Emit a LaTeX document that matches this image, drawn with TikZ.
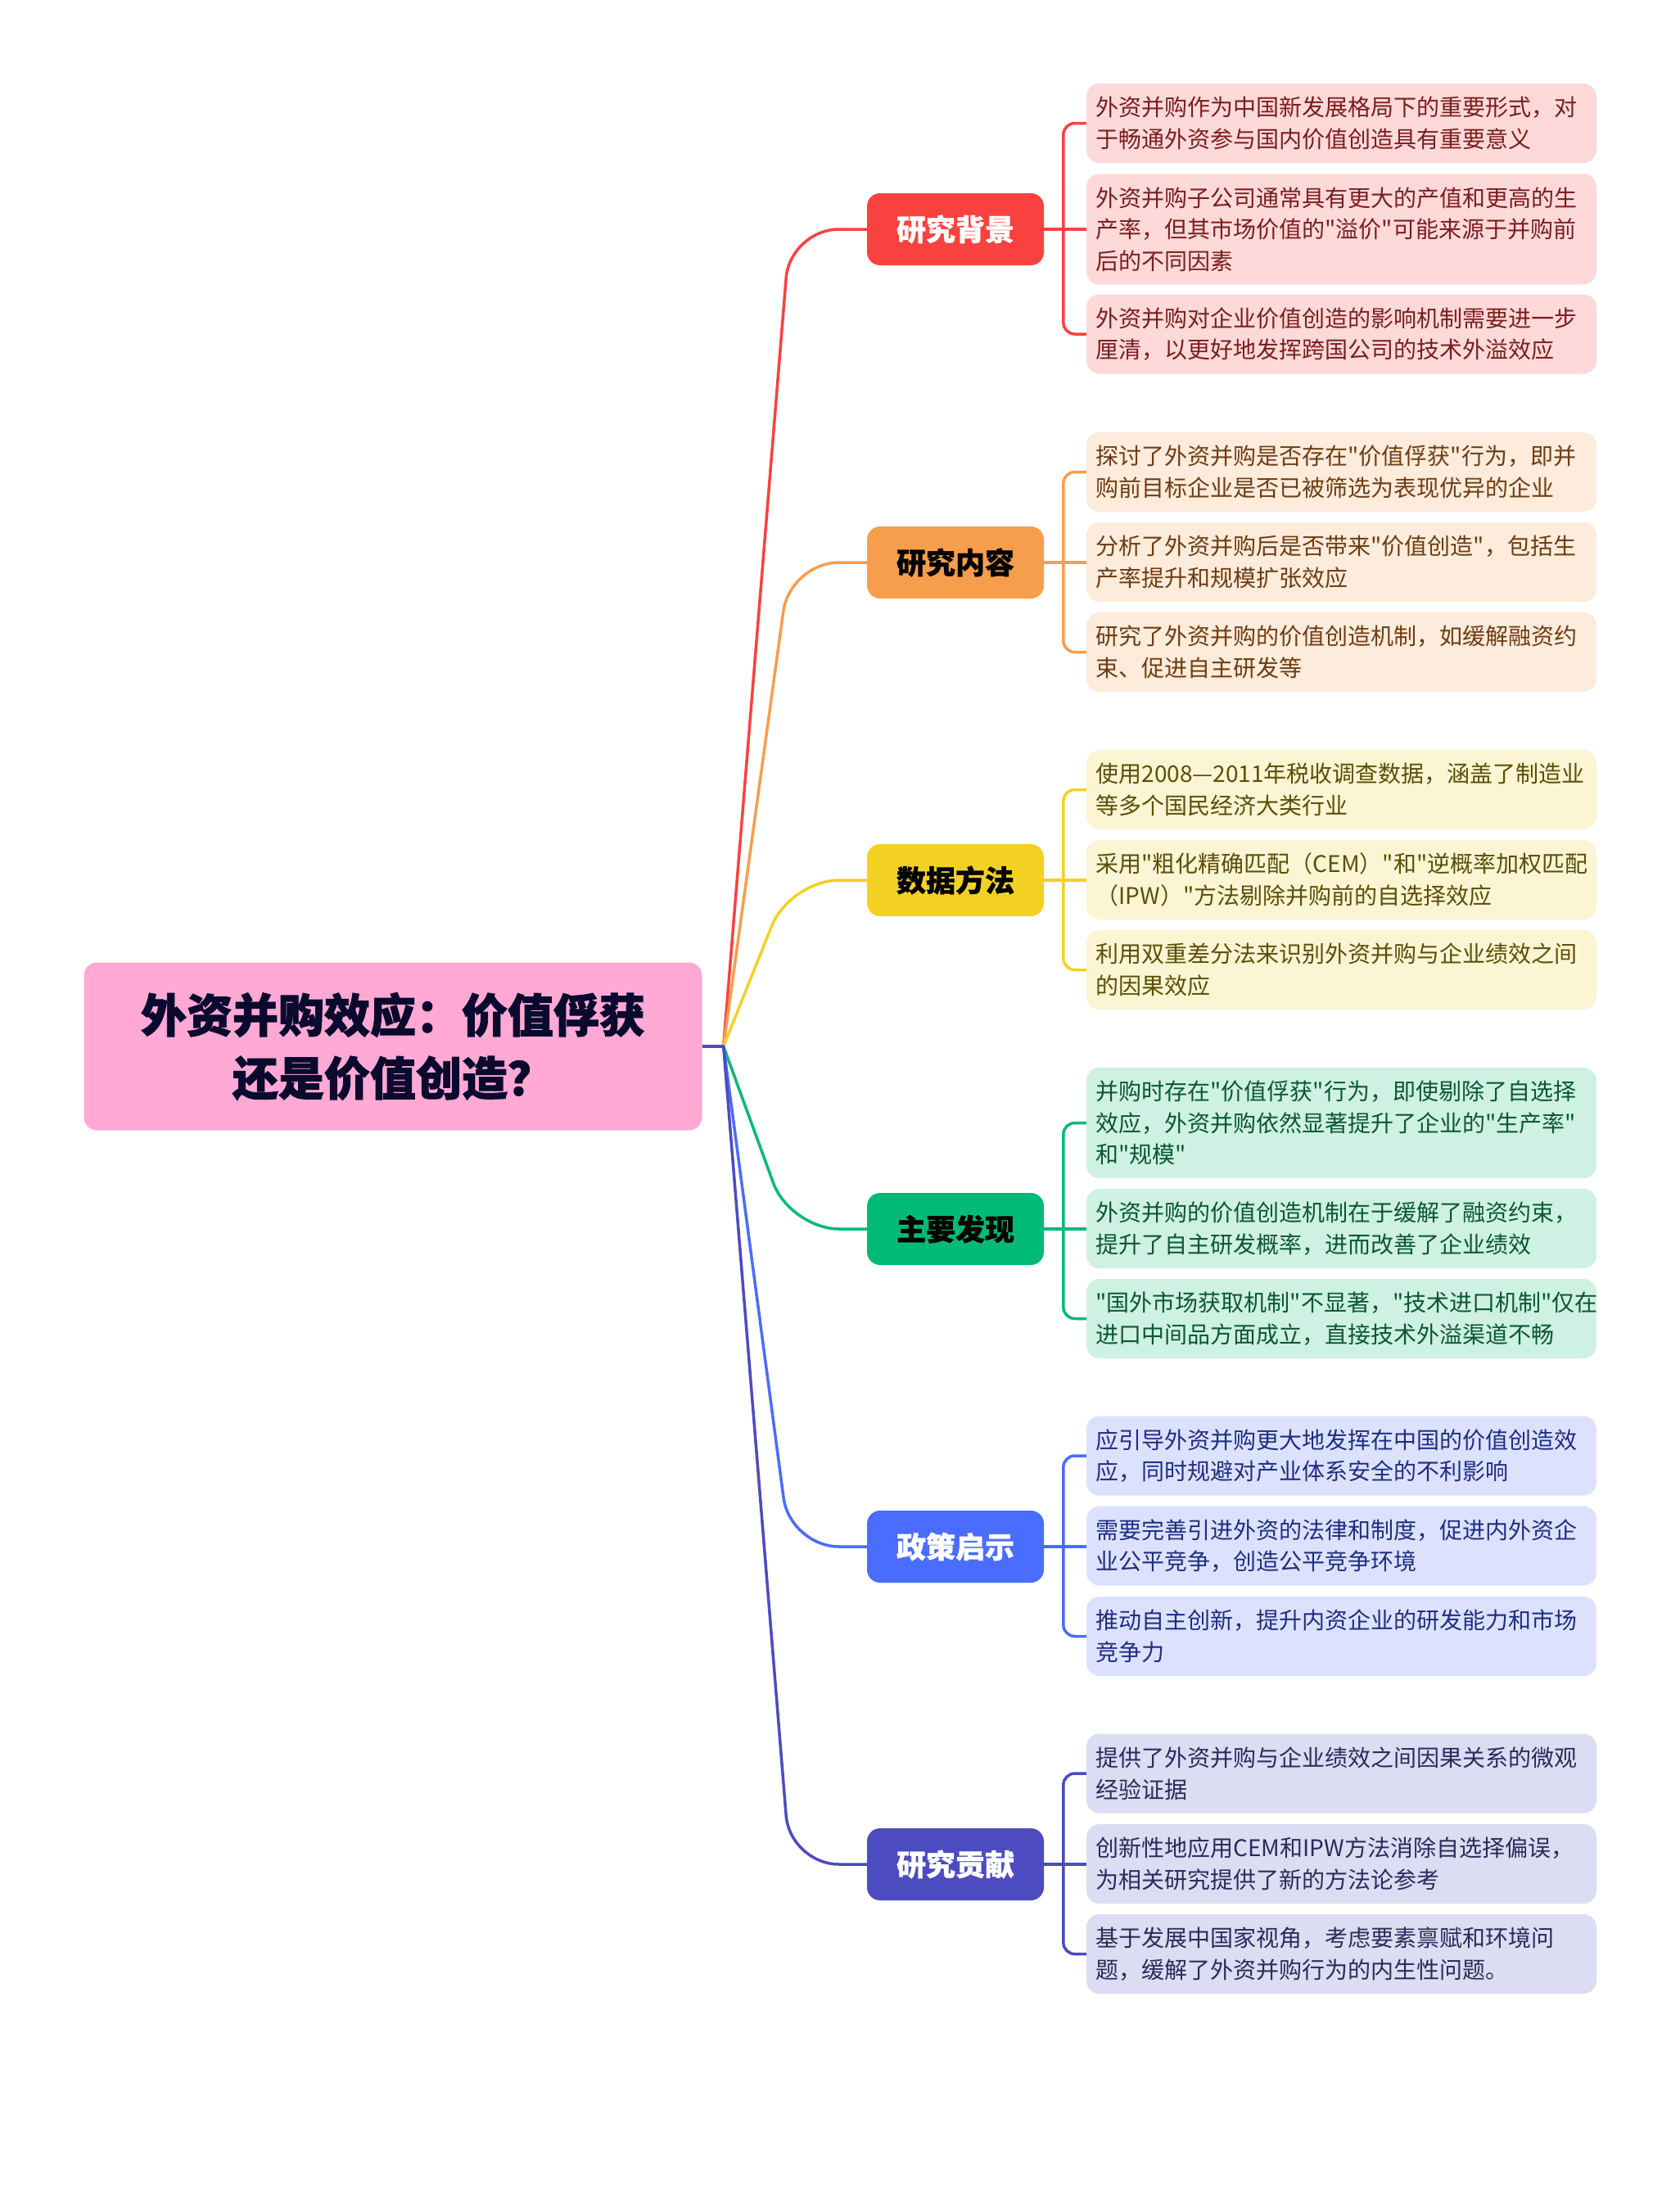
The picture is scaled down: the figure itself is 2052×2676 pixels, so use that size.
\documentclass[tikz,border=0pt]{standalone}
\usepackage{fontspec}
\setmainfont{Noto Sans CJK SC}[Ligatures=TeXOff]
\newfontfamily\heavyfont{Noto Sans CJK SC}[Ligatures=TeXOff, FakeBold=1.6]
\newfontfamily\semiheavyfont{Noto Sans CJK SC}[Ligatures=TeXOff, FakeBold=0.8]
\usetikzlibrary{calc}

\definecolor{rootfill}{HTML}{FFA9D4}
\definecolor{roottext}{HTML}{0A0A2E}
\definecolor{cA}{HTML}{F9423F}
\definecolor{lA}{HTML}{FDD9D9}
\definecolor{tA}{HTML}{7A1E1E}
\definecolor{cB}{HTML}{F69E4C}
\definecolor{lB}{HTML}{FDEBDB}
\definecolor{tB}{HTML}{6E3C12}
\definecolor{cC}{HTML}{F2D123}
\definecolor{lC}{HTML}{FBF5D3}
\definecolor{tC}{HTML}{5C4E08}
\definecolor{cD}{HTML}{02BA78}
\definecolor{lD}{HTML}{CEF1E3}
\definecolor{tD}{HTML}{0B5637}
\definecolor{cE}{HTML}{4A6CFF}
\definecolor{lE}{HTML}{DCE2FE}
\definecolor{tE}{HTML}{1F2D80}
\definecolor{cF}{HTML}{4C4BC0}
\definecolor{lF}{HTML}{DCDCF2}
\definecolor{tF}{HTML}{2B2A5C}

\tikzset{
  mainline/.style={line width=3.5pt, line cap=round, line join=round, rounded corners=60pt},
  bracket/.style={line width=3.5pt, rounded corners=14pt},
  rootbox/.style={fill=rootfill, rounded corners=16pt, minimum width=755pt, minimum height=205pt,
    text=roottext, font=\heavyfont\bfseries\fontsize{56}{77}\selectfont, align=center, inner sep=0pt},
  branchbox/.style={rounded corners=16pt, minimum width=216pt, minimum height=88pt,
    font=\semiheavyfont\bfseries\fontsize{36}{40}\selectfont, inner sep=0pt},
  leafbox/.style={rounded corners=16pt, text width=600pt, inner xsep=11.5pt, inner ysep=0pt,
    align=left, font=\fontsize{28}{38.5}\selectfont},
  leaftwo/.style={leafbox, minimum height=97pt},
  leafthree/.style={leafbox, minimum height=135pt},
}

\begin{document}
\begin{tikzpicture}[x=1pt,y=-1pt]
\useasboundingbox[fill=white] (0,0) rectangle (2052,2676);

% root
\node[rootbox] (root) at (480,1278) {外资并购效应：价值俘获\\还是价值创造？};
\coordinate (hub) at ($(root.east)+(26,0)$);
\coordinate (elbow) at (965,0);

% branches
\node[branchbox, fill=cA, text=white] (bA) at (1167,280) {研究背景};
\node[branchbox, fill=cB, text=black] (bB) at (1167,687) {研究内容};
\node[branchbox, fill=cC, text=black] (bC) at (1167,1075) {数据方法};
\node[branchbox, fill=cD, text=black] (bD) at (1167,1501) {主要发现};
\node[branchbox, fill=cE, text=white] (bE) at (1167,1889) {政策启示};
\node[branchbox, fill=cF, text=white] (bF) at (1167,2277) {研究贡献};

% leaves A
\node[leaftwo, fill=lA, text=tA] (a1) at (1638.5,150.5) {外资并购作为中国新发展格局下的重要形式，对\\于畅通外资参与国内价值创造具有重要意义};
\node[leafthree, fill=lA, text=tA] (a2) at (1638.5,280) {外资并购子公司通常具有更大的产值和更高的生\\产率，但其市场价值的"溢价"可能来源于并购前\\后的不同因素};
\node[leaftwo, fill=lA, text=tA] (a3) at (1638.5,408) {外资并购对企业价值创造的影响机制需要进一步\\厘清，以更好地发挥跨国公司的技术外溢效应};

% leaves B
\node[leaftwo, fill=lB, text=tB] (b1) at (1638.5,576.5) {探讨了外资并购是否存在"价值俘获"行为，即并\\购前目标企业是否已被筛选为表现优异的企业};
\node[leaftwo, fill=lB, text=tB] (b2) at (1638.5,686.5) {分析了外资并购后是否带来"价值创造"，包括生\\产率提升和规模扩张效应};
\node[leaftwo, fill=lB, text=tB] (b3) at (1638.5,796.5) {研究了外资并购的价值创造机制，如缓解融资约\\束、促进自主研发等};

% leaves C
\node[leaftwo, fill=lC, text=tC] (c1) at (1638.5,964.5) {使用2008—2011年税收调查数据，涵盖了制造业\\等多个国民经济大类行业};
\node[leaftwo, fill=lC, text=tC] (c2) at (1638.5,1074.5) {采用"粗化精确匹配（CEM）"和"逆概率加权匹配\\（IPW）"方法剔除并购前的自选择效应};
\node[leaftwo, fill=lC, text=tC] (c3) at (1638.5,1184.5) {利用双重差分法来识别外资并购与企业绩效之间\\的因果效应};

% leaves D
\node[leafthree, fill=lD, text=tD] (d1) at (1638.5,1371.5) {并购时存在"价值俘获"行为，即使剔除了自选择\\效应，外资并购依然显著提升了企业的"生产率"\\和"规模"};
\node[leaftwo, fill=lD, text=tD] (d2) at (1638.5,1500.5) {外资并购的价值创造机制在于缓解了融资约束，\\提升了自主研发概率，进而改善了企业绩效};
\node[leaftwo, fill=lD, text=tD] (d3) at (1638.5,1610.5) {"国外市场获取机制"不显著，"技术进口机制"仅在\\进口中间品方面成立，直接技术外溢渠道不畅};

% leaves E
\node[leaftwo, fill=lE, text=tE] (e1) at (1638.5,1778) {应引导外资并购更大地发挥在中国的价值创造效\\应，同时规避对产业体系安全的不利影响};
\node[leaftwo, fill=lE, text=tE] (e2) at (1638.5,1888) {需要完善引进外资的法律和制度，促进内外资企\\业公平竞争，创造公平竞争环境};
\node[leaftwo, fill=lE, text=tE] (e3) at (1638.5,1998.5) {推动自主创新，提升内资企业的研发能力和市场\\竞争力};

% leaves F
\node[leaftwo, fill=lF, text=tF] (f1) at (1638.5,2166) {提供了外资并购与企业绩效之间因果关系的微观\\经验证据};
\node[leaftwo, fill=lF, text=tF] (f2) at (1638.5,2276.5) {创新性地应用CEM和IPW方法消除自选择偏误，\\为相关研究提供了新的方法论参考};
\node[leaftwo, fill=lF, text=tF] (f3) at (1638.5,2386.5) {基于发展中国家视角，考虑要素禀赋和环境问\\题，缓解了外资并购行为的内生性问题。};

% root to branch connectors
\draw[mainline, cA] (hub) -- (elbow |- bA.west) -- (bA.west);
\draw[mainline, cB] (hub) -- (elbow |- bB.west) -- (bB.west);
\draw[mainline, cC] (hub) -- (elbow |- bC.west) -- (bC.west);
\draw[mainline, cD] (hub) -- (elbow |- bD.west) -- (bD.west);
\draw[mainline, cE] (hub) -- (elbow |- bE.west) -- (bE.west);
\draw[mainline, cF] (hub) -- (elbow |- bF.west) -- (bF.west);
\draw[line width=3.5pt, cF] (root.east) -- (hub);

% branch to leaf brackets
\foreach \b/\p/\q/\r/\col in {bA/a1/a2/a3/cA, bB/b1/b2/b3/cB, bC/c1/c2/c3/cC, bD/d1/d2/d3/cD, bE/e1/e2/e3/cE, bF/f1/f2/f3/cF}{
  \draw[bracket, \col] (\p.west) -- ++(-28,0) |- (\r.west);
  \draw[line width=3.5pt, \col] (\b.east) -- (\b.east -| \q.west);
}
\end{tikzpicture}
\end{document}
